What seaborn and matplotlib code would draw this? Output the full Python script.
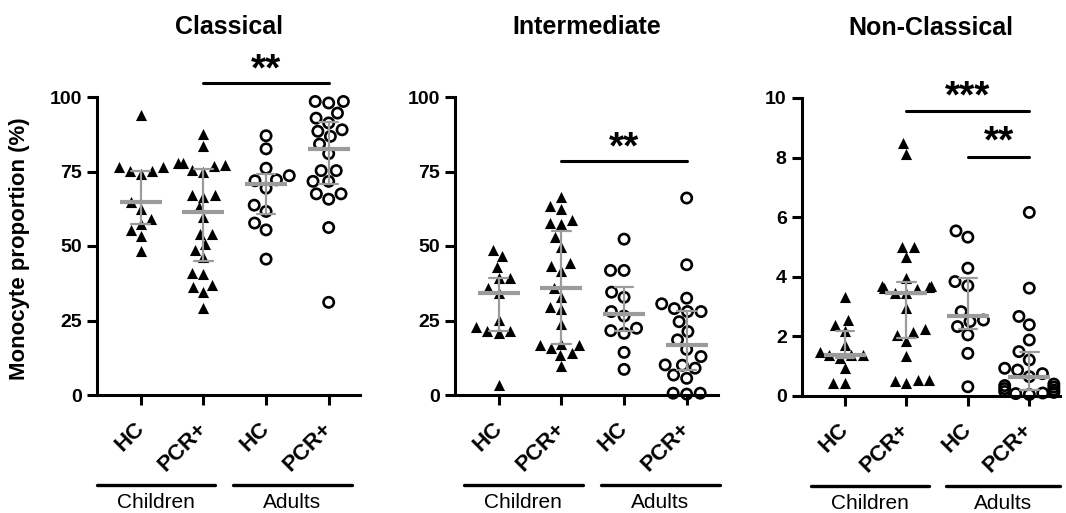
import numpy as np
import pandas as pd
import matplotlib
matplotlib.use("Agg")
import matplotlib.pyplot as plt
import matplotlib.transforms as mtransforms
import seaborn as sns

# ---------------- data ----------------
groups = ["Children HC", "Children PCR+", "Adults HC", "Adults PCR+"]
tick_labels = ["HC", "PCR+", "HC", "PCR+"]
panel_titles = ["Classical", "Intermediate", "Non-Classical"]
ylabel = "Monocyte proportion (%)"

classical_child_hc = [94.1, 76.5, 74.2, 75.3, 75.3, 76.5, 64.6, 62.5, 59.1, 57.4, 55.4, 53.2, 48.4]
classical_child_pcr = [87.6, 83.4, 77.8, 77.8, 77.3, 76.7, 75.6, 75.0, 67.2, 67.2, 66.4, 63.0,
                       59.6, 54.1, 54.1, 50.7, 48.7, 46.2, 41.1, 40.6, 36.9, 36.2, 34.4, 29.1]
classical_adult_hc = [87.0, 82.6, 76.1, 73.6, 72.2, 71.9, 69.4, 63.7, 61.6, 57.7, 55.4, 45.6]
classical_adult_pcr = [98.5, 98.5, 98.0, 94.6, 92.9, 91.3, 88.5, 89.0, 86.8, 84.2, 81.0, 75.3,
                       75.3, 71.7, 71.7, 67.5, 65.7, 67.5, 56.2, 31.1]

inter_child_hc = [48.7, 46.5, 43.1, 39.4, 39.4, 35.8, 34.2, 25.2, 22.7, 21.6, 20.9, 21.6, 3.4]
inter_child_pcr = [66.4, 63.3, 62.5, 58.8, 57.7, 57.5, 52.9, 49.8, 44.2, 43.4, 41.6, 35.8,
                   33.0, 29.5, 28.8, 23.7, 16.8, 17.1, 15.7, 16.8, 14.0, 13.4, 9.7]
inter_adult_hc = [52.3, 41.8, 41.8, 34.5, 32.8, 28.0, 26.5, 22.4, 21.6, 20.7, 14.3, 8.6]
inter_adult_pcr = [66.1, 43.7, 32.5, 30.6, 29.0, 28.0, 28.0, 24.6, 21.3, 18.5, 15.3, 12.9,
                   10.1, 10.0, 9.0, 6.7, 5.6, 0.3, 0.6, 0.6]

noncl_child_hc = [3.31, 2.55, 2.38, 2.19, 1.71, 1.47, 1.38, 1.38, 1.38, 1.27, 0.93, 0.43, 0.43]
noncl_child_pcr = [8.49, 8.13, 5.0, 5.0, 4.65, 3.95, 3.70, 3.70, 3.67, 3.62, 3.58, 3.45,
                   3.45, 2.95, 2.26, 2.15, 2.05, 1.85, 1.35, 0.55, 0.55, 0.5, 0.45]
noncl_adult_hc = [5.54, 5.33, 4.29, 3.84, 3.70, 2.83, 2.55, 2.50, 2.33, 2.05, 1.43, 0.31]
noncl_adult_pcr = [6.16, 3.62, 2.67, 2.39, 1.88, 1.49, 1.21, 0.93, 0.87, 0.75, 0.65, 0.4,
                   0.35, 0.3, 0.25, 0.2, 0.15, 0.12, 0.1, 0.08, 0.05]

panels = [
    [classical_child_hc, classical_child_pcr, classical_adult_hc, classical_adult_pcr],
    [inter_child_hc, inter_child_pcr, inter_adult_hc, inter_adult_pcr],
    [noncl_child_hc, noncl_child_pcr, noncl_adult_hc, noncl_adult_pcr],
]
y_ticks = [[0, 25, 50, 75, 100], [0, 25, 50, 75, 100], [0, 2, 4, 6, 8, 10]]
y_max = [100, 100, 10]

# significance: (group a, group b, line y, text y, label)
signif = [
    [(1, 3, 104.8, 109.0, "**")],
    [(1, 3, 78.6, 82.8, "**")],
    [(1, 3, 9.58, 10.03, "***"), (2, 3, 8.02, 8.52, "**")],
]
age_groups = ["Children", "Adults"]
age_spans = [
    [(-0.70, 1.19), (1.47, 3.37)],
    [(-0.56, 1.34), (1.63, 3.53)],
    [(-0.55, 1.37), (1.65, 3.50)],
]

# ---------------- style ----------------
sns.set_theme(style="ticks")
plt.rcParams["font.family"] = ["Liberation Sans", "DejaVu Sans"]
plt.rcParams["axes.linewidth"] = 2.2
for k in ["text.color", "axes.labelcolor", "xtick.color", "ytick.color", "axes.edgecolor"]:
    plt.rcParams[k] = "black"

fig = plt.figure(figsize=(10.66, 5.13), dpi=100)
H = 513.0
W = 1066.0
axes_px = [(97, 360, 97, 395), (455, 718, 97, 395), (802, 1060, 98, 396)]

gray = "#9b9b9b"

for i, vals in enumerate(panels):
    l, r, t, b = axes_px[i]
    ax = fig.add_axes([l / W, 1 - b / H, (r - l) / W, (b - t) / H])
    rows = []
    for g, v in zip(groups, vals):
        for x in v:
            rows.append({"group": g, "value": x})
    df = pd.DataFrame(rows)
    child = df[df["group"].str.startswith("Children")]
    adult = df[df["group"].str.startswith("Adults")]

    sns.swarmplot(data=child, x="group", y="value", order=groups, ax=ax,
                  marker="^", color="black", size=8.0, linewidth=0)
    n_before = len(ax.collections)
    sns.swarmplot(data=adult, x="group", y="value", order=groups, ax=ax,
                  marker="o", color="black", size=7.4, linewidth=1.9,
                  edgecolor="black")
    for c in ax.collections[n_before:]:
        c.set_facecolor("none")
        c.set_edgecolor("black")
    for c in list(ax.collections):
        if len(c.get_offsets()) == 0:
            c.remove()
        else:
            c.set_clip_on(False)

    n_lines = len(ax.lines)
    sns.pointplot(data=df, x="group", y="value", order=groups, ax=ax,
                  estimator="median", errorbar=("pi", 50), capsize=0.3,
                  color=gray, marker="_", linestyle="none", markersize=30,
                  markeredgewidth=3, err_kws={"linewidth": 1.6})
    for ln in ax.lines[n_lines:]:
        ln.set_zorder(6)
        ln.set_clip_on(False)

    ax.set_xlim(-0.70, 3.5)
    ax.set_ylim(0, y_max[i])
    ax.set_yticks(y_ticks[i])
    ax.set_yticklabels([str(t) for t in y_ticks[i]], fontsize=14, fontweight="bold")
    ax.set_xticks(range(4))
    ax.set_xticklabels(tick_labels, fontsize=16, fontweight="bold", rotation=45,
                       ha="right", va="center", rotation_mode="anchor")
    ax.tick_params(axis="both", length=7, width=2.2, color="black", pad=4)
    ax.tick_params(axis="x", pad=15)
    ax.set_xlabel("")
    if i == 0:
        ax.set_ylabel(ylabel, fontsize=16, fontweight="bold")
        ax.yaxis.set_label_coords(-0.255, 0.49)
    else:
        ax.set_ylabel("")
    sns.despine(ax=ax)

    ax.text(0.5, 1.235, panel_titles[i], transform=ax.transAxes, ha="center",
            va="center", fontsize=18, fontweight="bold")

    for (a, bb, ly, ty, lab) in signif[i]:
        ax.plot([a, bb], [ly, ly], color="black", lw=2.2, clip_on=False)
        ax.text((a + bb) / 2, ty, lab, ha="center", va="center", fontsize=28,
                fontweight="bold", clip_on=False)

    trans = mtransforms.blended_transform_factory(ax.transData, ax.transAxes)
    for name, (x0, x1) in zip(age_groups, age_spans[i]):
        ax.plot([x0, x1], [-0.302, -0.302], color="black", lw=2.4,
                transform=trans, clip_on=False)
        ax.text((x0 + x1) / 2, -0.362, name, transform=trans, ha="center",
                va="center", fontsize=15)

fig.savefig("out.png", dpi=100)
